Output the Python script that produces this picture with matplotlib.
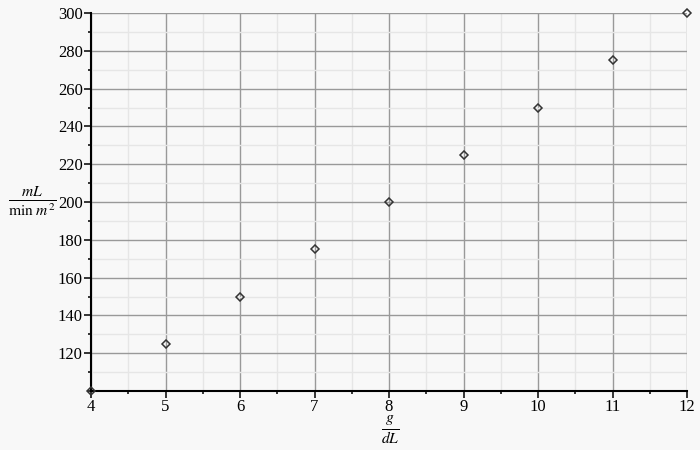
import matplotlib
matplotlib.use('Agg')
import matplotlib.pyplot as plt
from matplotlib.ticker import MultipleLocator

plt.rcParams['font.family'] = ['Liberation Serif', 'DejaVu Serif']
plt.rcParams['mathtext.fontset'] = 'stix'

# data
conc = [4, 5, 6, 7, 8, 9, 10, 11, 12]
flow = [100, 125, 150, 175, 200, 225, 250, 275, 300]

bg = '#f8f8f8'
fig = plt.figure(figsize=(7, 4.5), dpi=100, facecolor=bg)
ax = fig.add_axes([91/700, 1 - 391/450, (687-91)/700, (391-13)/450])
ax.set_facecolor(bg)

ax.plot(conc, flow, linestyle='none', marker='D', markersize=4.5,
        markerfacecolor='none', markeredgecolor='#333333', markeredgewidth=1.1,
        clip_on=False, zorder=5)

ax.set_xlim(4, 12)
ax.set_ylim(100, 300)
ax.xaxis.set_major_locator(MultipleLocator(1))
ax.xaxis.set_minor_locator(MultipleLocator(0.5))
ax.yaxis.set_minor_locator(MultipleLocator(10))
ax.set_yticks([120, 140, 160, 180, 200, 220, 240, 260, 280, 300])

ax.grid(which='major', color='#999999', linewidth=1.0)
ax.grid(which='minor', color='#e6e6e6', linewidth=1.0)
ax.set_axisbelow(True)

for s in ['top', 'right']:
    ax.spines[s].set_visible(False)
ax.spines['left'].set_linewidth(1.5)
ax.spines['bottom'].set_linewidth(1.5)

ax.tick_params(which='major', direction='out', length=5, width=1.1,
               labelsize=12, colors='black', pad=1)
ax.tick_params(which='minor', direction='out', length=2.5, width=1.1)

fig.text(390/700, 1 - 430/450, r'$\frac{g}{dL}$', fontsize=16,
         ha='center', va='center')
fig.text(32/700, 1 - 201/450, r'$\frac{mL}{\mathrm{min}\ m^2}$', fontsize=16,
         ha='center', va='center')

fig.savefig('out.png', dpi=100, facecolor=bg)
